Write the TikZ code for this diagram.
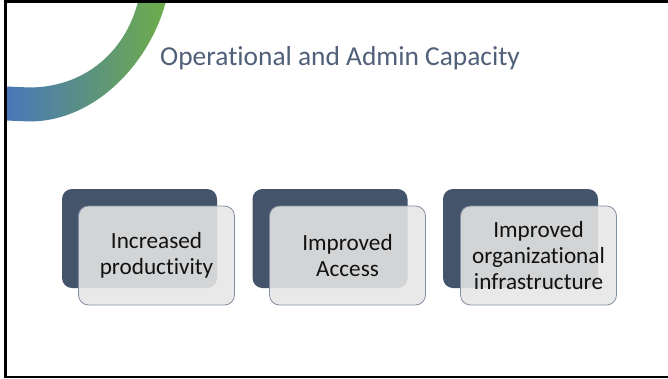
\documentclass[tikz,border=0pt]{standalone}
\usepackage{fontspec}
\setmainfont{Carlito}[RawFeature={-liga}]
\definecolor{slate}{HTML}{44546A}
\definecolor{titlegray}{HTML}{516079}
\definecolor{cardgray}{HTML}{E6E6E6}
\definecolor{cardedge}{HTML}{8390A3}
\definecolor{ringblue}{HTML}{4673C2}
\definecolor{ringgreen}{HTML}{6EAD48}
\definecolor{inktext}{HTML}{111111}
\tikzset{
  backcard/.style={draw=none, fill=slate, rounded corners=10pt,
    minimum width=155pt, minimum height=99pt, inner sep=0pt},
  frontcard/.style={draw=cardedge, line width=0.8pt, fill=cardgray, fill opacity=0.88,
    text opacity=1, rounded corners=10pt, minimum width=156pt, minimum height=99pt,
    inner sep=0pt, align=center, text=inktext,
    font=\fontsize{23.2}{26}\selectfont},
  titletext/.style={anchor=base west, text=titlegray, inner sep=0pt,
    font=\fontsize{27.4}{33}\selectfont},
  framecol/.style={draw=black, line width=2.5pt}
}
\begin{document}
\begin{tikzpicture}[x=1pt,y=-1pt]
\useasboundingbox (0,0) rectangle (668,378);
\fill[white] (0,0) rectangle (668,378);

% gradient ring in the upper-left corner
\begin{scope}
  \clip (5.5,1.5) rectangle (668,377);
  \shade[left color=ringblue, right color=ringgreen]
    (168,-8) .. controls (156,55) and (100,121) .. (30,121.5) -- (-5,120)
    -- (-5,86) -- (30,87.5) .. controls (90,87) and (131,45) .. (140,-8) -- cycle;
\end{scope}

% title
\node[titletext] (title) at (160,65) {Operational and Admin Capacity};

% cards
\node[backcard] (back1) at (139.5,238.5) {};
\node[frontcard] (card1) at (156.5,255.5) {Increased\\productivity};

\node[backcard] (back2) at (330,238.5) {};
\node[frontcard] (card2) at (347.5,255.5) {Improved\\Access};

\node[backcard] (back3) at (520.5,238.5) {};
\node[frontcard] (card3) at (538.5,255.5) {Improved\\organizational\\infrastructure};

% slide frame
\draw[framecol] (668,1.5) -- (5.5,1.5) -- (5.5,376.8) -- (668,376.8);
\end{tikzpicture}
\end{document}
